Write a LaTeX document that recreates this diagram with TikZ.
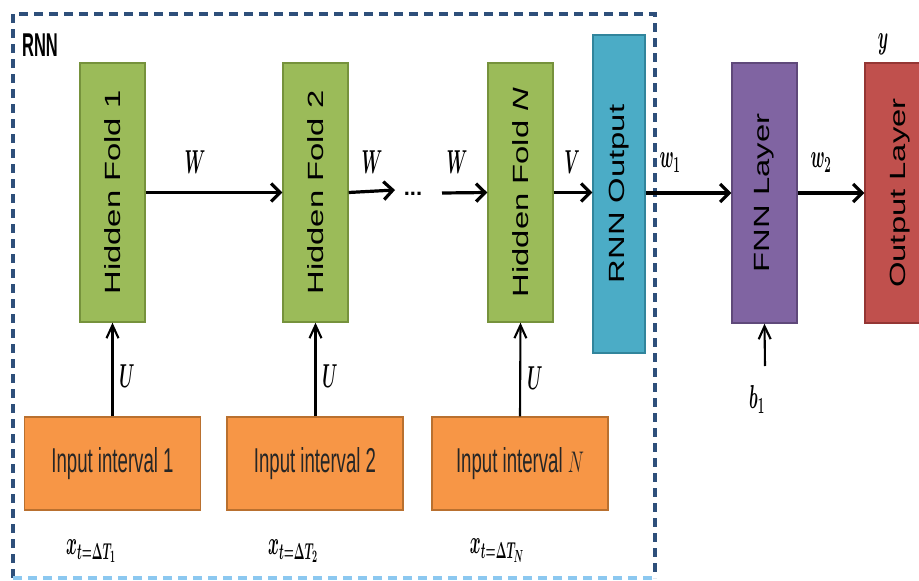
\documentclass[tikz,border=0pt]{standalone}
\usepackage{fontspec}
\setmainfont{Liberation Sans}
\usetikzlibrary{arrows.meta}
\definecolor{gfill}{HTML}{9BBB59}\definecolor{gdraw}{HTML}{76923C}
\definecolor{ofill}{HTML}{F79646}\definecolor{odraw}{HTML}{B9702F}
\definecolor{cfill}{HTML}{4BACC6}\definecolor{cdraw}{HTML}{31859C}
\definecolor{pfill}{HTML}{8064A2}\definecolor{pdraw}{HTML}{5F497A}
\definecolor{rfill}{HTML}{C0504D}\definecolor{rdraw}{HTML}{943634}
\definecolor{dashc}{HTML}{2E4F7A}
\definecolor{dashl}{HTML}{8CC8F0}
\newcommand\vtext[1]{\rotatebox{90}{\scalebox{1.49}[1]{#1}}}
\newcommand\htext[1]{\scalebox{0.81}[1.5]{#1}}
\newcommand\mlab[1]{\scalebox{0.8}[1.6]{$#1$}}
\tikzset{
  blk/.style={rectangle, draw, line width=1.4pt, inner sep=0pt, font=\fontsize{22}{22}\selectfont},
  hid/.style={blk, fill=gfill, draw=gdraw, minimum width=65pt, minimum height=259pt},
  inp/.style={blk, fill=ofill, draw=odraw, minimum width=176pt, minimum height=93pt, font=\fontsize{23}{23}\selectfont, text=black!85},
  hconn/.style={line width=3.2pt, -{Straight Barb[length=9pt,width=18pt]}},
  vconn/.style={line width=2.1pt, -{Straight Barb[length=13pt,width=12pt]}},
  lbl/.style={inner sep=0pt, font=\fontsize{22}{22}\selectfont\boldmath}
}
\begin{document}
\begin{tikzpicture}[x=1pt,y=-1pt]
\useasboundingbox (0,0) rectangle (919,581);
% RNN dashed frame
\draw[dashc, line width=3.2pt, dash pattern=on 9pt off 6pt] (13,578) -- (13,14) -- (655,14) -- (655,578);
\draw[dashl, line width=3.2pt, dash pattern=on 9pt off 6pt] (13,578) -- (655,578);
\node[inner sep=0pt, font=\fontsize{22}{22}\selectfont\bfseries] (rnnlbl) at (40,45) {\scalebox{0.75}[1.5]{RNN}};
% hidden folds
\node[hid] (h1) at (112.5,192.5) {\vtext{Hidden Fold 1}};
\node[hid] (h2) at (315.5,192.5) {\vtext{Hidden Fold 2}};
\node[hid] (hn) at (520.5,192.5) {\vtext{Hidden Fold \textit{N}}};
\node[blk, fill=cfill, draw=cdraw, minimum width=52pt, minimum height=318pt] (ro) at (619,194) {\vtext{RNN Output}};
\node[blk, fill=pfill, draw=pdraw, minimum width=65pt, minimum height=260pt] (fnn) at (764.5,193) {\vtext{FNN Layer}};
\node[blk, fill=rfill, draw=rdraw, minimum width=70pt, minimum height=260pt] (out) at (900,193) {\vtext{Output Layer}};
% inputs
\node[inp] (i1) at (112.5,463.5) {\htext{Input interval 1}};
\node[inp] (i2) at (315,463.5) {\htext{Input interval 2}};
\node[inp] (in) at (520,463.5) {\htext{Input interval \scalebox{0.9}[0.8]{$N$}}};
% horizontal connectors
\coordinate (d1) at (395,190);
\coordinate (d2) at (442,193);
\node[inner sep=0pt, font=\fontsize{22}{22}\selectfont] (dots) at (413,194) {\textbf{...}};
\draw[hconn] (h1) -- (h2);
\draw[hconn] (h2.east) -- (d1);
\draw[hconn] (d2) -- (hn.west);
\draw[hconn] (hn.east) -- (hn.east -| ro.west);
\draw[hconn] (fnn.west -| ro.east) -- (fnn.west);
\draw[hconn] (fnn) -- (out);
% vertical connectors
\draw[vconn] (i1.north) -- (h1.south);
\draw[vconn] (i2.north -| h2.south) -- (h2.south);
\draw[vconn] (in.north) -- (hn.south);
\coordinate (b1pt) at (765,366);
\draw[vconn] (b1pt) -- (fnn.south);
% labels
\node[lbl] (lw1) at (195,162) {\mlab{W}};
\node[lbl] (lw2) at (372,162) {\mlab{W}};
\node[lbl] (lw3) at (457,162) {\mlab{W}};
\node[lbl] (lv) at (572,162) {\mlab{V}};
\node[lbl] (lwa) at (670,163) {\mlab{w_1}};
\node[lbl] (lwb) at (821,163) {\mlab{w_2}};
\node[lbl] (ly) at (883,44) {\mlab{y}};
\node[lbl] (lu1) at (127,376) {\mlab{U}};
\node[lbl] (lu2) at (330,376) {\mlab{U}};
\node[lbl] (lu3) at (535,378) {\mlab{U}};
\node[lbl] (lb) at (757,399) {\mlab{b_1}};
\node[lbl] (x1) at (91,551) {\mlab{x_{t=\Delta T_1}}};
\node[lbl] (x2) at (293,551) {\mlab{x_{t=\Delta T_2}}};
\node[lbl] (x3) at (497,551) {\mlab{x_{t=\Delta T_N}}};
\end{tikzpicture}
\end{document}
